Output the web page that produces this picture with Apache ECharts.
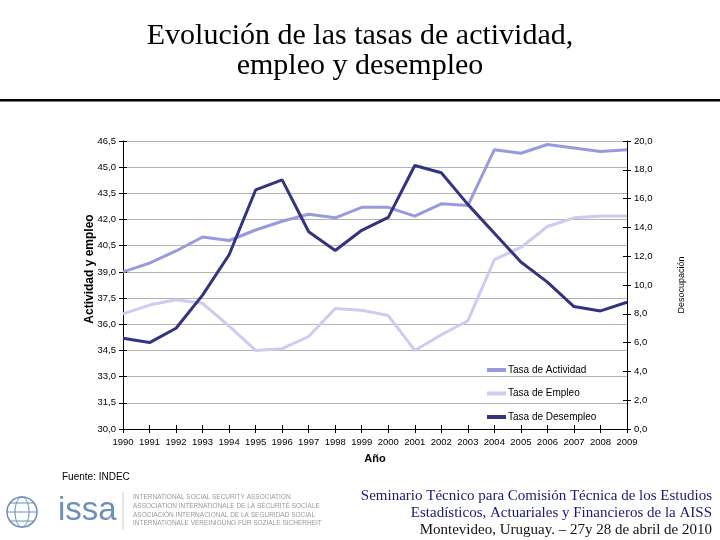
<!DOCTYPE html>
<html>
<head>
<meta charset="utf-8">
<script src="https://cdn.jsdelivr.net/npm/echarts@6/dist/echarts.min.js"></script>
<style>html,body{margin:0;padding:0;background:#fff}#c{width:720px;height:540px}</style>
</head>
<body>
<div id="c"></div>
<script>
const years = ['1990','1991','1992','1993','1994','1995','1996','1997','1998','1999','2000','2001','2002','2003','2004','2005','2006','2007','2008','2009'];
const actividad = [39.0,39.5,40.2,41.0,40.8,41.4,41.9,42.3,42.1,42.7,42.7,42.2,42.9,42.8,46.0,45.8,46.3,46.1,45.9,46.0];
const empleo = [36.6,37.1,37.4,37.2,35.9,34.5,34.6,35.3,36.9,36.8,36.5,34.5,35.4,36.2,39.7,40.4,41.6,42.1,42.2,42.2];
const desempleo = [6.3,6.0,7.0,9.3,12.1,16.6,17.3,13.7,12.4,13.8,14.7,18.3,17.8,15.6,13.6,11.6,10.2,8.5,8.2,8.8];
const seriesNames = ['Tasa de Actividad','Tasa de Empleo','Tasa de Desempleo'];
const leftTicks = {min:30, max:46.5, interval:1.5};
const rightTicks = {min:0, max:20, interval:2};

const chart = echarts.init(document.getElementById('c'), null, {renderer:'canvas'});
const fmt = v => v.toFixed(1).replace('.', ',');
const axisFont = {fontFamily:'Liberation Sans, Arial', fontSize:9.5, color:'#000'};
chart.setOption({
  animation:false,
  backgroundColor:'#fff',
  grid: {left:123, right:93, top:141, bottom:111},
  legend: {
    orient:'vertical', left:482, top:360, itemGap:13.5,
    itemWidth:19, itemHeight:4, icon:'rect',
    textStyle:{fontFamily:'Liberation Sans, Arial', fontSize:10, color:'#000', padding:[0,0,0,-3]},
    data: seriesNames
  },
  xAxis: [{
    type:'category', data:years, boundaryGap:false,
    axisLine:{lineStyle:{color:'#000', width:1}},
    axisTick:{show:true, length:4, interval:0, lineStyle:{color:'#000'}},
    axisLabel:Object.assign({margin:8, interval:0}, axisFont),
    name:'Año', nameLocation:'middle', nameGap:24,
    nameTextStyle:{fontFamily:'Liberation Sans, Arial', fontSize:11, fontWeight:'bold', color:'#000'}
  },{
    type:'category', data:years, boundaryGap:false, position:'bottom',
    axisLine:{show:false}, axisTick:{show:true, inside:true, interval:0, length:4, lineStyle:{color:'#000'}},
    axisLabel:{show:false}
  }],
  yAxis: [{
    type:'value', min:leftTicks.min, max:leftTicks.max, interval:leftTicks.interval,
    axisLine:{show:true, lineStyle:{color:'#000'}},
    axisTick:{show:true, length:4, lineStyle:{color:'#000'}},
    axisLabel:Object.assign({formatter:fmt, margin:7}, axisFont),
    splitLine:{show:true, lineStyle:{color:'#b4b4b4', width:1}}
  },{
    type:'value', min:rightTicks.min, max:rightTicks.max, interval:rightTicks.interval, position:'right',
    axisLine:{show:true, lineStyle:{color:'#000'}},
    axisTick:{show:true, length:4, lineStyle:{color:'#000'}},
    axisLabel:Object.assign({formatter:fmt, margin:7}, axisFont),
    splitLine:{show:false},
    name:'Desocupación', nameLocation:'middle', nameGap:50, nameRotate:90,
    nameTextStyle:{fontFamily:'Liberation Sans, Arial', fontSize:9, color:'#000'}
  },{
    type:'value', min:leftTicks.min, max:leftTicks.max, interval:leftTicks.interval, position:'left',
    axisLine:{show:false}, axisTick:{show:true, inside:true, length:4, lineStyle:{color:'#000'}},
    axisLabel:{show:false}, splitLine:{show:false}
  },{
    type:'value', min:rightTicks.min, max:rightTicks.max, interval:rightTicks.interval, position:'right',
    axisLine:{show:false}, axisTick:{show:true, inside:true, length:4, lineStyle:{color:'#000'}},
    axisLabel:{show:false}, splitLine:{show:false}
  }],
  series: [
    {name:seriesNames[0], type:'line', data:actividad, yAxisIndex:0, symbol:'none', lineStyle:{width:3, color:'#9999e0'}, itemStyle:{color:'#9999e0'}},
    {name:seriesNames[1], type:'line', data:empleo, yAxisIndex:0, symbol:'none', lineStyle:{width:3, color:'#ccccf0'}, itemStyle:{color:'#ccccf0'}},
    {name:seriesNames[2], type:'line', data:desempleo, yAxisIndex:1, symbol:'none', lineStyle:{width:3, color:'#333380'}, itemStyle:{color:'#333380'}}
  ],
  graphic: [
    {type:'text', left:'center', top:21, style:{text:'Evolución de las tasas de actividad,', font:'30px "Liberation Serif", serif', fill:'#000'}},
    {type:'text', left:'center', top:51, style:{text:'empleo y desempleo', font:'30px "Liberation Serif", serif', fill:'#000'}},
    {type:'rect', shape:{x:0, y:99, width:720, height:2.5}, style:{fill:'#000'}},
    {type:'text', x:90, y:269, rotation:Math.PI/2, style:{text:'Actividad y empleo', font:'bold 12px "Liberation Sans", Arial', fill:'#000', align:'center', verticalAlign:'middle'}},
    {type:'text', left:62, top:472, style:{text:'Fuente: INDEC', font:'10px "Liberation Sans", Arial', fill:'#000'}},
    {type:'circle', shape:{cx:22, cy:512, r:15}, style:{fill:'none', stroke:'#6b8fc0', lineWidth:1.5}},
    {type:'ellipse', shape:{cx:22, cy:512, rx:7, ry:15}, style:{fill:'none', stroke:'#6b8fc0', lineWidth:1}},
    {type:'line', shape:{x1:7, y1:512, x2:37, y2:512}, style:{stroke:'#6b8fc0', lineWidth:1}},
    {type:'line', shape:{x1:10, y1:503, x2:34, y2:503}, style:{stroke:'#6b8fc0', lineWidth:1}},
    {type:'line', shape:{x1:10, y1:521, x2:34, y2:521}, style:{stroke:'#6b8fc0', lineWidth:1}},
    {type:'text', left:58, top:494, style:{text:'issa', font:'33px "Liberation Sans", Arial', fill:'#6d8fba'}},
    {type:'line', shape:{x1:123, y1:492, x2:123, y2:530}, style:{stroke:'#ccc', lineWidth:1}},
    {type:'text', left:133, top:493, style:{text:'INTERNATIONAL SOCIAL SECURITY ASSOCIATION\nASSOCIATION INTERNATIONALE DE LA SÉCURITÉ SOCIALE\nASOCIACIÓN INTERNACIONAL DE LA SEGURIDAD SOCIAL\nINTERNATIONALE VEREINIGUNG FÜR SOZIALE SICHERHEIT', font:'6.5px "Liberation Sans", Arial', fill:'#999', lineHeight:8.7}},
    {type:'text', right:8, top:489, style:{text:'Seminario Técnico para Comisión Técnica de los Estudios', font:'15px "Liberation Serif", serif', fill:'#1a1a70', align:'right'}},
    {type:'text', right:8, top:506, style:{text:'Estadísticos, Actuariales y Financieros de la AISS', font:'15px "Liberation Serif", serif', fill:'#1a1a70', align:'right'}},
    {type:'text', right:8, top:523, style:{text:'Montevideo, Uruguay. – 27y 28 de abril de 2010', font:'15px "Liberation Serif", serif', fill:'#111', align:'right'}}
  ]
});
</script>
</body>
</html>
